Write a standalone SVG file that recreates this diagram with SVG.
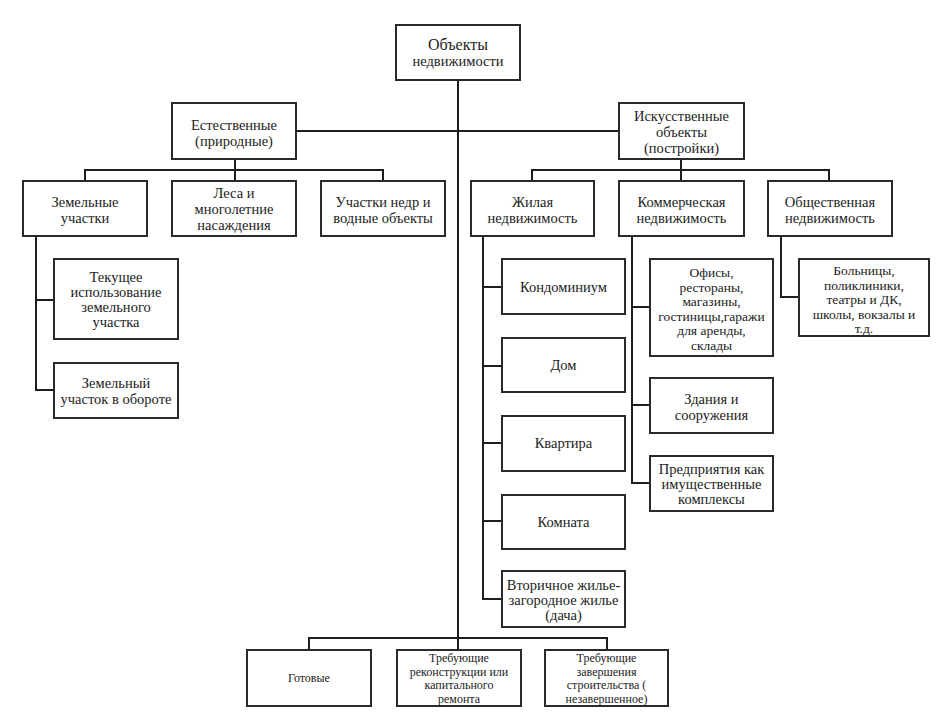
<svg xmlns="http://www.w3.org/2000/svg" width="936" height="716" viewBox="0 0 936 716">
<style>
rect{fill:#fff;stroke:#2a2a2a;stroke-width:2}
text{font-family:'Liberation Serif','Times New Roman',serif;font-size:14.5px;fill:#222;text-anchor:middle}
.m{font-size:13.5px}
.s{font-size:12px}
.t{font-size:16px}
#connectors path{fill:none;stroke:#1e1e1e;stroke-width:2}
</style>
<rect x="0" y="0" width="936" height="716" style="stroke:none"/>
<g id="connectors">
<path d="M458 80V638"/>
<path d="M296 131H619"/>
<path d="M235 159V170M85 181V170H383V181M235 170V181"/>
<path d="M681 159V170M532 181V170H829V181M681 170V181"/>
<path d="M36 236V390H54M36 300H54"/>
<path d="M483 236V599H502M483 287H502M483 366H502M483 443H502M483 521H502"/>
<path d="M632 236V483H650M632 307H650M632 405H650"/>
<path d="M781 236V297H799"/>
<path d="M309 650V638H607V650M458 638V650"/>
</g>
<g id="root"><rect x="396" y="25" width="124" height="55"/><text class="t" x="458" y="50">Объекты</text><text x="458" y="66">недвижимости</text></g>
<g id="natural"><rect x="172" y="103" width="124" height="56"/><text x="234" y="130">Естественные</text><text x="234" y="146">(природные)</text></g>
<g id="artificial"><rect x="619" y="103" width="125" height="56"/><text x="681.5" y="121">Искусственные</text><text x="681.5" y="137">объекты</text><text x="681.5" y="153">(постройки)</text></g>
<g id="land"><rect x="23" y="181" width="124" height="55"/><text x="85" y="207">Земельные</text><text x="85" y="223">участки</text></g>
<g id="forest"><rect x="172" y="181" width="124" height="55"/><text x="234" y="198">Леса и</text><text x="234" y="214">многолетние</text><text x="234" y="230">насаждения</text></g>
<g id="subsoil"><rect x="321" y="181" width="124" height="55"/><text x="383" y="207">Участки недр и</text><text x="383" y="223">водные объекты</text></g>
<g id="residential"><rect x="471" y="181" width="123" height="55"/><text x="532.5" y="207">Жилая</text><text x="532.5" y="223">недвижимость</text></g>
<g id="commercial"><rect x="619" y="181" width="125" height="55"/><text x="681.5" y="207">Коммерческая</text><text x="681.5" y="223">недвижимость</text></g>
<g id="public"><rect x="768" y="181" width="124" height="55"/><text x="830" y="207">Общественная</text><text x="830" y="223">недвижимость</text></g>
<g id="current-use"><rect x="54" y="259" width="124" height="80"/><text x="116" y="282">Текущее</text><text x="116" y="297">использование</text><text x="116" y="312">земельного</text><text x="116" y="327">участка</text></g>
<g id="land-turnover"><rect x="54" y="363" width="124" height="55"/><text x="116" y="388">Земельный</text><text x="116" y="404">участок в обороте</text></g>
<g id="condo"><rect x="502" y="259" width="123" height="55"/><text x="563.5" y="292">Кондоминиум</text></g>
<g id="house"><rect x="502" y="338" width="123" height="54"/><text x="563.5" y="370">Дом</text></g>
<g id="flat"><rect x="502" y="416" width="123" height="55"/><text x="563.5" y="448">Квартира</text></g>
<g id="room"><rect x="502" y="495" width="123" height="54"/><text x="563.5" y="527">Комната</text></g>
<g id="secondary"><rect x="502" y="571" width="123" height="56"/><text x="563.5" y="590">Вторичное жилье-</text><text x="563.5" y="605">загородное жилье</text><text x="563.5" y="620">(дача)</text></g>
<g id="offices"><rect x="650" y="259" width="123" height="97"/><text class="m" x="711.5" y="277">Офисы,</text><text class="m" x="711.5" y="291.5">рестораны,</text><text class="m" x="711.5" y="306">магазины,</text><text class="m" x="711.5" y="320.5">гостиницы,гаражи</text><text class="m" x="711.5" y="335">для аренды,</text><text class="m" x="711.5" y="349.5">склады</text></g>
<g id="buildings"><rect x="650" y="378" width="123" height="55"/><text x="711.5" y="404">Здания и</text><text x="711.5" y="420">сооружения</text></g>
<g id="enterprises"><rect x="650" y="456" width="123" height="55"/><text x="711.5" y="474">Предприятия как</text><text x="711.5" y="489">имущественные</text><text x="711.5" y="504">комплексы</text></g>
<g id="hospitals"><rect x="799" y="259" width="130" height="77"/><text class="m" x="864" y="275">Больницы,</text><text class="m" x="864" y="289.5">поликлиники,</text><text class="m" x="864" y="304">театры и ДК,</text><text class="m" x="864" y="318.5">школы, вокзалы и</text><text class="m" x="864" y="333">т.д.</text></g>
<g id="ready"><rect x="247" y="650" width="124" height="56"/><text class="s" x="309" y="682">Готовые</text></g>
<g id="reconstruction"><rect x="397" y="650" width="124" height="56"/><text class="s" x="459" y="662">Требующие</text><text class="s" x="459" y="675.5">реконструкции или</text><text class="s" x="459" y="689">капитального</text><text class="s" x="459" y="702.5">ремонта</text></g>
<g id="unfinished"><rect x="545" y="650" width="123" height="56"/><text class="s" x="606.5" y="662">Требующие</text><text class="s" x="606.5" y="675.5">завершения</text><text class="s" x="606.5" y="689">строительства (</text><text class="s" x="606.5" y="702.5">незавершенное)</text></g>
</svg>
